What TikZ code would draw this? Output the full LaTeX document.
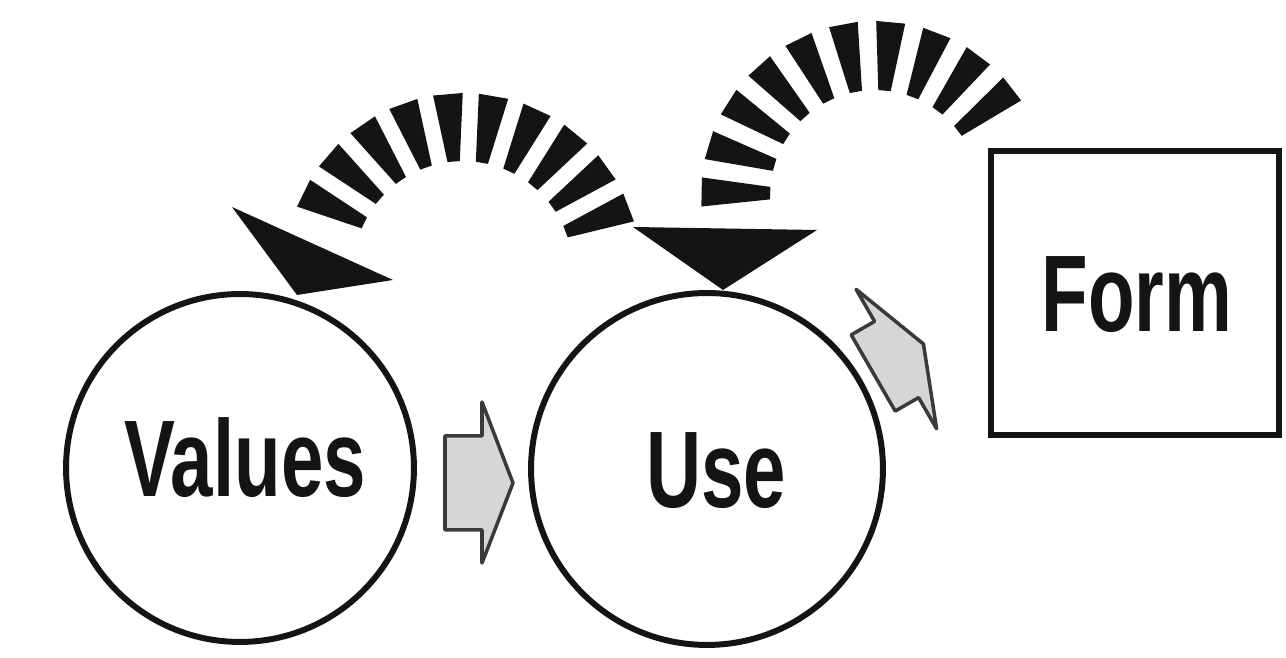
\documentclass[tikz,border=0pt]{standalone}
\usepackage{fontspec}
\usepackage{graphicx}
\setmainfont{Liberation Sans}
\definecolor{ink}{HTML}{141414}
\definecolor{arrowfill}{HTML}{D6D6D6}
\definecolor{arrowline}{HTML}{3A3A3A}
\tikzset{
  ring/.style={circle, draw=ink, line width=3.4pt, inner sep=0pt},
  formbox/.style={rectangle, draw=ink, line width=3.4pt, inner sep=0pt},
  lbl/.style={anchor=base, inner sep=0pt, text=ink, font=\bfseries\fontsize{62}{62}\selectfont},
  headfill/.style={fill=ink},
  dashfill/.style={fill=ink},
  arrowbody/.style={fill=arrowfill, draw=arrowline, line width=2pt, line join=round},
  blockarrow/.pic={
    \filldraw[arrowbody]
      (-34,47) -- (3,47) -- (3,81) -- (34,0) -- (3,-80) -- (3,-47) -- (-34,-47) -- cycle;
  },
  blockarrowshort/.pic={
    \filldraw[arrowbody]
      (-24,44) -- (3,44) -- (3,81) -- (34,0) -- (3,-80) -- (3,-44) -- (-24,-44) -- cycle;
  }
}
\begin{document}
\begin{tikzpicture}[x=0.02cm, y=0.02cm]
\useasboundingbox (0,0) rectangle (1286,658);
\fill[white] (0,0) rectangle (1286,658);

% circles and box
\node[ring, minimum size=6.96cm] (valuesC) at (240,190) {};
\node[ring, minimum size=7.04cm] (useC) at (707,189) {};
\node[formbox, minimum width=5.76cm, minimum height=5.68cm] (formB) at (1135,365) {};

% labels
\node[lbl] (valuesT) at (245,161) {\scalebox{0.7}[1]{Values}};
\node[lbl] (useT) at (716,150) {\scalebox{0.7}[1]{Use}};
\node[lbl] (formT) at (1137,326) {\scalebox{0.7}[1]{Form}};

% triangular heads
\fill[headfill] (232,451) -- (393,378) -- (297,363) -- cycle;
\fill[headfill] (633,431) -- (817,428) -- (723,368) -- cycle;

% dashed arcs
\coordinate (arcA) at (463,387);
\begin{scope}[shift={(arcA)}]
  \foreach \i in {0,...,9}{
    \pgfmathsetmacro\a{154-\i*14.78}
    \fill[dashfill] (\a+4.8:178) -- (\a-4.8:178) -- (\a-3.2:110) -- (\a+3.2:110) -- cycle;
  }
\end{scope}
\coordinate (arcB) at (875,463);
\begin{scope}[shift={(arcB)}]
  \foreach \i in {0,...,9}{
    \pgfmathsetmacro\a{179-\i*15.7}
    \fill[dashfill] (\a+4.8:174) -- (\a-4.8:174) -- (\a-3.4:105) -- (\a+3.4:105) -- cycle;
  }
\end{scope}

% block arrows
\pic (arrowA) at (479,175) {blockarrow};
\pic[rotate=30] (arrowB) at (894,297) {blockarrowshort};
\end{tikzpicture}
\end{document}
